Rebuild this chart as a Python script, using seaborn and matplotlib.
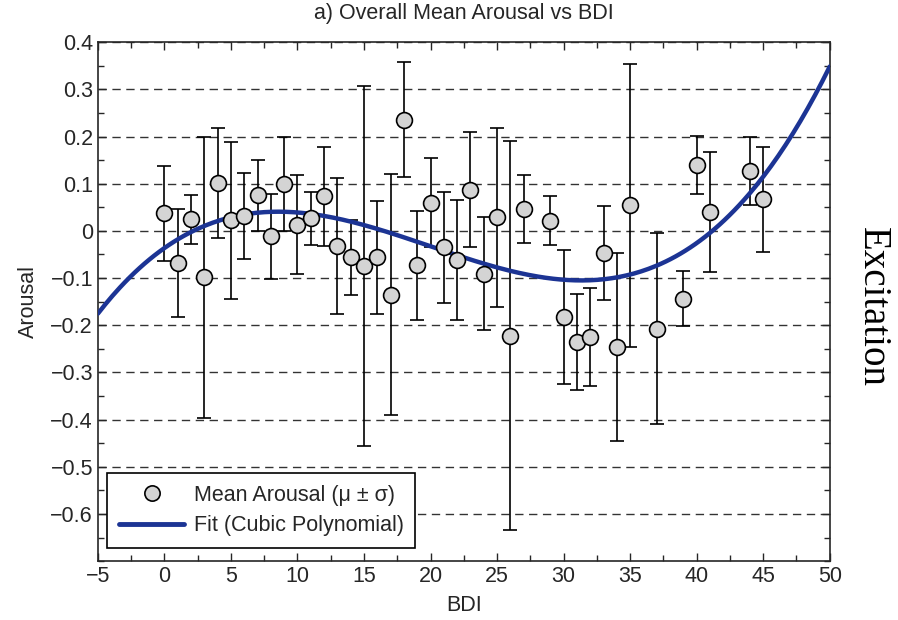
import numpy as np
import pandas as pd
import seaborn as sns
import matplotlib.pyplot as plt
from matplotlib.lines import Line2D
from matplotlib.ticker import MultipleLocator

# Mean arousal per BDI score
bdi = [0, 1, 2, 3, 4, 5, 6, 7, 8, 9, 10, 11, 12, 13, 14, 15, 16, 17, 18, 19,
       20, 21, 22, 23, 24, 25, 26, 27, 29, 30, 31, 32, 33, 34, 35, 37, 39, 40,
       41, 44, 45]
mean_arousal = [0.037, -0.068, 0.025, -0.098, 0.101, 0.022, 0.032, 0.075, -0.011,
                0.099, 0.013, 0.027, 0.073, -0.032, -0.056, -0.074, -0.056, -0.135,
                0.236, -0.073, 0.060, -0.035, -0.061, 0.087, -0.091, 0.029, -0.222,
                0.046, 0.021, -0.182, -0.235, -0.225, -0.047, -0.246, 0.054, -0.207,
                -0.144, 0.140, 0.040, 0.127, 0.067]
std_arousal = [0.100, 0.115, 0.052, 0.298, 0.116, 0.166, 0.091, 0.075, 0.090,
               0.099, 0.105, 0.056, 0.105, 0.144, 0.080, 0.382, 0.120, 0.255,
               0.122, 0.115, 0.095, 0.118, 0.127, 0.122, 0.120, 0.190, 0.412,
               0.072, 0.052, 0.142, 0.102, 0.103, 0.100, 0.200, 0.300, 0.203,
               0.058, 0.062, 0.127, 0.072, 0.111]

x_ticks = list(range(-5, 51, 5))
y_ticks = [-0.6, -0.5, -0.4, -0.3, -0.2, -0.1, 0.0, 0.1, 0.2, 0.3, 0.4]
y_tick_labels = ['\u22120.6', '\u22120.5', '\u22120.4', '\u22120.3', '\u22120.2',
                 '\u22120.1', '0', '0.1', '0.2', '0.3', '0.4']

df = pd.DataFrame({'BDI': bdi, 'Arousal': mean_arousal, 'SD': std_arousal})

# cubic polynomial fit of the means
coef = np.polyfit(df['BDI'], df['Arousal'], 3)
fit_x = np.linspace(-5, 50, 300)
fit = pd.DataFrame({'BDI': fit_x, 'Arousal': np.polyval(coef, fit_x)})

sns.set_style('ticks')
plt.rcParams['font.family'] = ['Liberation Sans', 'DejaVu Sans']
plt.rcParams['xtick.direction'] = 'in'
plt.rcParams['ytick.direction'] = 'in'

fig = plt.figure(figsize=(8.98, 6.2), dpi=100)
ax = fig.add_axes([0.109, 0.095, 0.815, 0.837])

fit_color = '#1c3494'

ax.errorbar(df['BDI'], df['Arousal'], yerr=df['SD'], fmt='none', ecolor='black',
            elinewidth=1.2, capsize=5, capthick=1.2, zorder=2)
sns.lineplot(data=fit, x='BDI', y='Arousal', color=fit_color, linewidth=3.2,
             ax=ax, zorder=3)
sns.scatterplot(data=df, x='BDI', y='Arousal', s=130, color='#d4d4d4',
                edgecolor='black', linewidth=1.2, ax=ax, zorder=4)

ax.set_xlim(-5, 50)
ax.set_ylim(-0.7, 0.4)
ax.set_xticks(x_ticks, [str(v).replace('-', '\u2212') for v in x_ticks])
ax.set_yticks(y_ticks, y_tick_labels)
ax.xaxis.set_minor_locator(MultipleLocator(2.5))
ax.yaxis.set_minor_locator(MultipleLocator(0.05))
ax.tick_params(which='both', top=True, right=True, labelsize=15.5, width=1)
ax.tick_params(which='major', length=6)
ax.tick_params(which='minor', length=4)
for s in ax.spines.values():
    s.set_linewidth(1.2)

ax.grid(axis='y', which='major', linestyle=(0, (6, 4)), color='#333333', linewidth=1)
ax.set_axisbelow(True)

ax.set_title('a) Overall Mean Arousal vs BDI', fontsize=15.5, pad=17)
ax.set_xlabel('BDI', fontsize=15.5, labelpad=6)
ax.set_ylabel('Arousal', fontsize=15.5, labelpad=8)

fig.text(0.971, 0.505, 'Excitation', rotation=270, ha='center', va='center',
         fontsize=28, family='Liberation Serif', color='black')

handles = [
    Line2D([], [], marker='o', linestyle='none', markersize=11,
           markerfacecolor='#d4d4d4', markeredgecolor='black', markeredgewidth=1.2),
    Line2D([], [], color=fit_color, linewidth=3.5),
]
leg = ax.legend(handles, ['Mean Arousal (\u03bc \u00b1 \u03c3)', 'Fit (Cubic Polynomial)'],
                loc='lower left', bbox_to_anchor=(0.013, 0.025), borderaxespad=0,
                fontsize=15.5, frameon=True, fancybox=False, edgecolor='black',
                handlelength=3.0, borderpad=0.55, labelspacing=0.45, handletextpad=0.45)
leg.get_frame().set_linewidth(1.2)
leg.get_frame().set_alpha(1)

fig.savefig('out.png', dpi=100)
